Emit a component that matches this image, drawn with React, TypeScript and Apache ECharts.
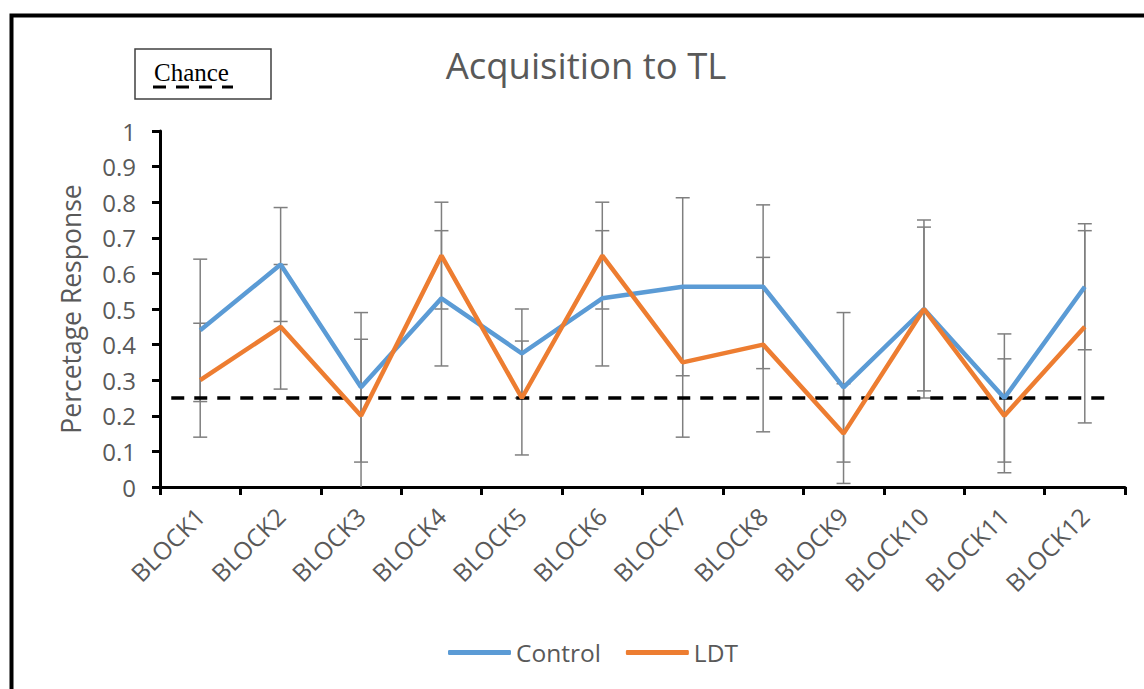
import React, { useEffect, useRef } from "react";
import * as echarts from "echarts";

const categories = ["BLOCK1", "BLOCK2", "BLOCK3", "BLOCK4", "BLOCK5", "BLOCK6", "BLOCK7", "BLOCK8", "BLOCK9", "BLOCK10", "BLOCK11", "BLOCK12"];
const controlMean = [0.44, 0.625, 0.28, 0.53, 0.375, 0.53, 0.5625, 0.5625, 0.28, 0.5, 0.25, 0.5625];
const controlErr = [0.2, 0.16, 0.21, 0.19, 0.125, 0.19, 0.25, 0.23, 0.21, 0.25, 0.18, 0.177];
const ldtMean = [0.3, 0.45, 0.2, 0.65, 0.25, 0.65, 0.35, 0.4, 0.15, 0.5, 0.2, 0.45];
const ldtErr = [0.16, 0.175, 0.215, 0.15, 0.16, 0.15, 0.21, 0.245, 0.14, 0.23, 0.16, 0.27];
const chanceLevel = 0.25;
const chanceSpan = [0.14, 11.85];
const yTicks = { min: 0, max: 1, interval: 0.1 };

const GRAY = "#595959";
const FONT = "Open Sans";

function errData(mean: number[], err: number[]) {
  return mean.map((m, i) => [i, m - err[i], m + err[i]]);
}

function errRender(params: any, api: any) {
  const x = api.value(0);
  const pLo = api.coord([x, api.value(1)]);
  const pHi = api.coord([x, api.value(2)]);
  const cap = 7;
  const style = { stroke: "#7f7f7f", lineWidth: 1.5 };
  return {
    type: "group",
    children: [
      { type: "line", shape: { x1: pLo[0], y1: pLo[1], x2: pHi[0], y2: pHi[1] }, style },
      { type: "line", shape: { x1: pHi[0] - cap, y1: pHi[1], x2: pHi[0] + cap, y2: pHi[1] }, style },
      { type: "line", shape: { x1: pLo[0] - cap, y1: pLo[1], x2: pLo[0] + cap, y2: pLo[1] }, style },
    ],
  };
}

export default function App() {
  const ref = useRef<HTMLDivElement>(null);
  useEffect(() => {
    if (!ref.current) return;
    const chart = echarts.init(ref.current, null, { renderer: "svg" });
    chart.setOption({
      animation: false,
      backgroundColor: "#ffffff",
      textStyle: { fontFamily: FONT },
      grid: { left: 160, right: 19, top: 131, bottom: 202 },
      graphic: [
        { type: "rect", shape: { x: 11.5, y: 15.5, width: 1300, height: 800 }, style: { fill: "none", stroke: "#000", lineWidth: 4 }, z: 100 },
        { type: "rect", shape: { x: 135, y: 49, width: 136, height: 50 }, style: { fill: "#fff", stroke: "#404040", lineWidth: 1.5 } },
        { type: "text", x: 154, y: 60, style: { text: "Chance", font: "25px 'Liberation Serif'", fill: "#000", verticalAlign: "top", align: "left" } },
        { type: "line", shape: { x1: 153, y1: 87, x2: 233, y2: 87 }, style: { stroke: "#000", lineWidth: 3, lineDash: [13, 10] } },
        { type: "text", x: 586, y: 46, style: { text: "Acquisition to TL", font: `36.5px '${FONT}'`, fill: GRAY, align: "center", verticalAlign: "top" } },
      ],
      legend: {
        data: ["Control", "LDT"],
        left: 443,
        top: 635,
        icon: "roundRect",
        itemWidth: 63,
        itemHeight: 5,
        itemGap: 25,
        textStyle: { color: GRAY, fontSize: 24.5, fontFamily: FONT },
      },
      xAxis: [
        {
          type: "category",
          data: categories,
          boundaryGap: true,
          axisLine: { lineStyle: { color: "#000", width: 3 } },
          axisTick: { show: true, interval: 0, length: 8, lineStyle: { color: "#000", width: 3 } },
          axisLabel: { interval: 0, rotate: 45, color: GRAY, fontSize: 24.5, margin: 25 },
          splitLine: { show: false },
        },
        { type: "value", min: 0, max: categories.length, show: false },
      ],
      yAxis: {
        type: "value",
        min: yTicks.min,
        max: yTicks.max,
        interval: yTicks.interval,
        name: "Percetage Response",
        nameLocation: "middle",
        nameGap: 76,
        nameTextStyle: { color: GRAY, fontSize: 26.5 },
        axisLine: { show: true, lineStyle: { color: "#000", width: 3 } },
        axisTick: { show: true, length: 8, lineStyle: { color: "#000", width: 3 } },
        axisLabel: { color: GRAY, fontSize: 24, margin: 24 },
        splitLine: { show: false },
      },
      series: [
        { name: "ctrlErr", type: "custom", xAxisIndex: 0, renderItem: errRender, data: errData(controlMean, controlErr), encode: { x: 0, y: [1, 2] }, clip: true, z: 1 },
        { name: "ldtErr", type: "custom", xAxisIndex: 0, renderItem: errRender, data: errData(ldtMean, ldtErr), encode: { x: 0, y: [1, 2] }, clip: true, z: 1 },
        {
          name: "Chance",
          type: "line",
          xAxisIndex: 1,
          data: chanceSpan.map((x) => [x, chanceLevel]),
          symbol: "none",
          lineStyle: { color: "#000", width: 3.5, type: [13, 10] },
          z: 2,
        },
        { name: "Control", type: "line", data: controlMean, color: "#5B9BD5", symbol: "none", lineStyle: { color: "#5B9BD5", width: 4.5 }, z: 3 },
        { name: "LDT", type: "line", data: ldtMean, color: "#ED7D31", symbol: "none", lineStyle: { color: "#ED7D31", width: 4.5 }, z: 4 },
      ],
    });
    return () => chart.dispose();
  }, []);
  return <div ref={ref} style={{ position: "fixed", left: 0, top: 0, width: 1144, height: 689 }} />;
}
